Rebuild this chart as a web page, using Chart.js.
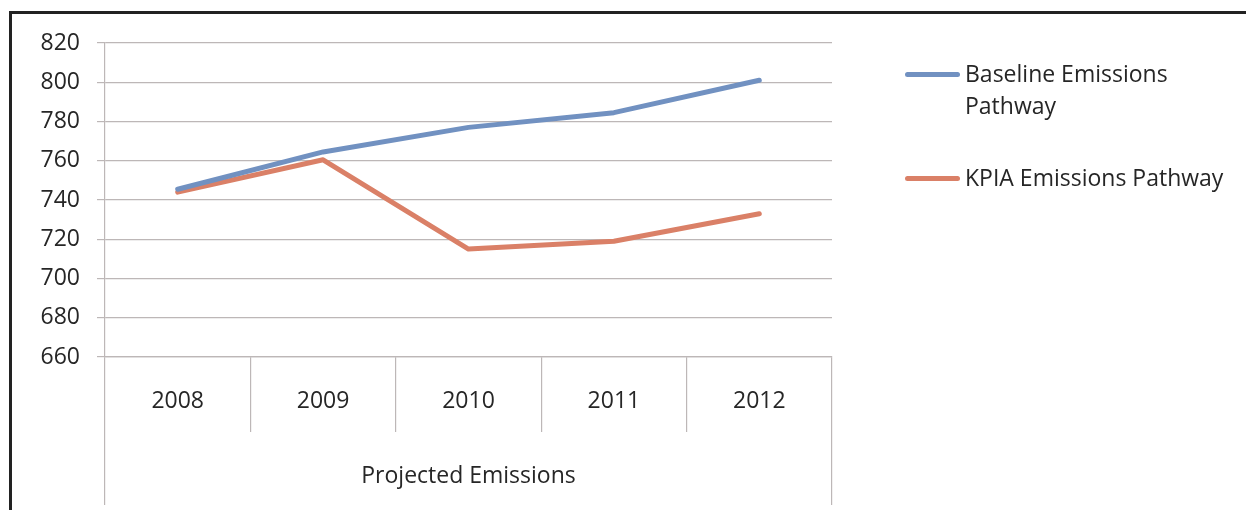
<!DOCTYPE html>
<html>
<head>
<meta charset="utf-8">
<script src="https://cdn.jsdelivr.net/npm/chart.js@4.4.1/dist/chart.umd.min.js"></script>
<style>
  html, body { margin: 0; padding: 0; background: #fff; }
  #wrap { position: relative; width: 1246px; height: 510px; overflow: hidden; }
  #frame { position: absolute; left: 9px; top: 11px; right: -5px; bottom: -5px;
           border-top: 3px solid #222; border-left: 3px solid #222; }
  #chartBox { position: absolute; left: 0; top: 0; width: 1246px; height: 510px; }
  .leg { position: absolute; font-family: 'Open Sans', sans-serif; font-size: 23px; color: #262626; line-height: 32px; }
  .leg .sw { position: absolute; left: 0; width: 55px; height: 5px; border-radius: 3px; }
  .leg .tx { position: absolute; left: 60px; top: 0; white-space: nowrap; }
</style>
</head>
<body>
<div id="wrap">
  <div id="frame"></div>
  <div id="chartBox"><canvas id="c"></canvas></div>
  <div id="legend"></div>
</div>
<script>
const categories = ['2008', '2009', '2010', '2011', '2012'];
const groupLabel = ['Projected Emissions'];
const baseline = [745.5, 764.5, 777, 784.5, 801];
const kpia = [744, 760.5, 715, 719, 733];
const seriesNames = [['Baseline Emissions', 'Pathway'], ['KPIA Emissions Pathway']];
const seriesColors = ['#7191c1', '#da8067'];
const yTicks = [660, 680, 700, 720, 740, 760, 780, 800, 820];

const gridColor = '#bdb7b7';
Chart.defaults.font.family = "'Open Sans', sans-serif";
Chart.defaults.font.size = 23;
Chart.defaults.color = '#262626';

const chart = new Chart(document.getElementById('c'), {
  type: 'line',
  data: {
    labels: categories,
    datasets: [
      { label: seriesNames[0].join(' '), data: baseline, borderColor: seriesColors[0], backgroundColor: seriesColors[0],
        borderWidth: 5, pointRadius: 0, tension: 0, borderCapStyle: 'round', borderJoinStyle: 'round', xAxisID: 'x' },
      { label: seriesNames[1].join(' '), data: kpia, borderColor: seriesColors[1], backgroundColor: seriesColors[1],
        borderWidth: 5, pointRadius: 0, tension: 0, borderCapStyle: 'round', borderJoinStyle: 'round', xAxisID: 'x' }
    ]
  },
  options: {
    responsive: true,
    maintainAspectRatio: false,
    animation: false,
    layout: { padding: { left: 30, top: 43, right: 414, bottom: 5 } },
    plugins: { legend: { display: false }, tooltip: { enabled: false } },
    scales: {
      y: {
        min: 660, max: 820,
        afterBuildTicks: (s) => { s.ticks = yTicks.map(v => ({ value: v })); },
        afterFit: (s) => { s.width = 75; },
        ticks: { padding: 17 },
        grid: { color: gridColor, lineWidth: 1.2, drawTicks: true, tickLength: 8 },
        border: { display: true, color: gridColor, width: 1.2 }
      },
      x: {
        type: 'category',
        position: 'bottom',
        offset: true,
        afterFit: (s) => { s.height = 75; },
        ticks: { padding: -44, maxRotation: 0 },
        grid: { offset: true, drawOnChartArea: false, drawTicks: true, tickLength: 75, color: gridColor, lineWidth: 1.2 },
        border: { display: true, color: gridColor, width: 1.2 }
      },
      x2: {
        type: 'category',
        position: 'bottom',
        labels: groupLabel,
        offset: true,
        afterFit: (s) => { s.height = 73; },
        ticks: { padding: -42, maxRotation: 0 },
        grid: { offset: true, drawOnChartArea: false, drawTicks: true, tickLength: 73, color: gridColor, lineWidth: 1.2 },
        border: { display: false }
      }
    }
  }
});

// HTML legend built from the series names/colours
const legendPos = [{ left: 905, top: 57 }, { left: 905, top: 161 }];
const legendEl = document.getElementById('legend');
seriesNames.forEach((name, i) => {
  const d = document.createElement('div');
  d.className = 'leg';
  d.style.left = legendPos[i].left + 'px';
  d.style.top = legendPos[i].top + 'px';
  const sw = document.createElement('div');
  sw.className = 'sw';
  sw.style.background = seriesColors[i];
  sw.style.top = '14.5px';
  const tx = document.createElement('div');
  tx.className = 'tx';
  tx.innerHTML = name.join('<br>');
  d.appendChild(sw); d.appendChild(tx);
  legendEl.appendChild(d);
});
</script>
</body>
</html>
